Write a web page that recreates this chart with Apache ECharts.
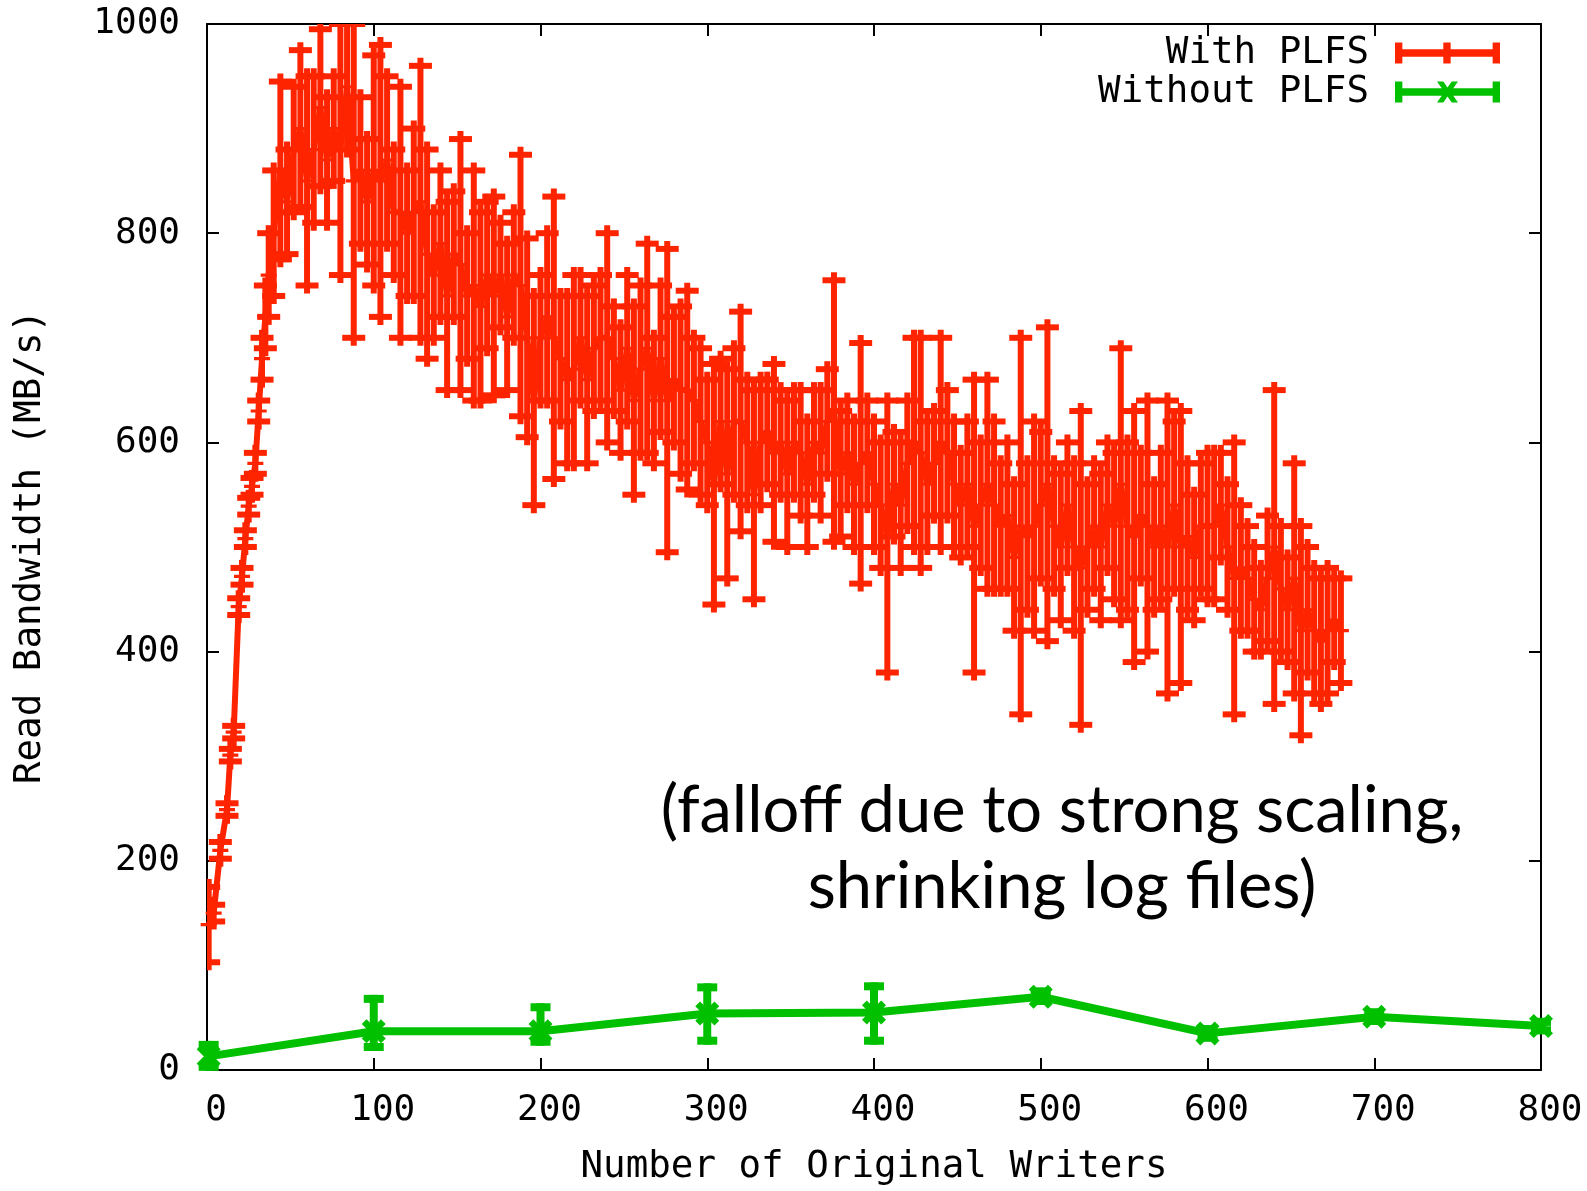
<!DOCTYPE html>
<html>
<head>
<meta charset="utf-8">
<script src="https://cdn.jsdelivr.net/npm/echarts@6/dist/echarts.min.js"></script>
<style>
html,body{margin:0;padding:0;background:#fff;}
#chart{width:1587px;height:1191px;}
</style>
</head>
<body>
<div id="chart"></div>
<script>
// ---- Data ----
// "With PLFS": x = number of original writers, mean bandwidth and symmetric error
const plfsX = [
  1,4,8,12,14,16,19,21,23,25,27,29,31,33,35,37,
  40,44,48,52,56,60,64,68,72,76,80,84,88,92,96,100,
  104,108,112,116,120,124,128,132,136,140,144,148,152,156,160,164,168,172,176,180,184,188,192,196,200,
  204,208,212,216,220,224,228,232,236,240,244,248,252,256,260,264,268,272,276,280,284,288,292,296,300,
  304,308,312,316,320,324,328,332,336,340,344,348,352,356,360,364,368,372,376,380,384,388,392,396,400,
  404,408,412,416,420,424,428,432,436,440,444,448,452,456,460,464,468,472,476,480,484,488,492,496,500,
  504,508,512,516,520,524,528,532,536,540,544,548,552,556,560,564,568,572,576,580,584,588,592,596,600,
  604,608,612,616,620,624,628,632,636,640,644,648,652,656,660,664,668,672,676,680
];
const plfsMean = [
  139,150,210,249,301,323,443,472,508,539,558,580,630,680,720,760,
  800,860,830,880,900,850,880,920,870,900,880,940,850,860,830,860,
  850,870,820,820,800,820,830,780,760,790,740,780,770,740,750,730,760,740,760,720,760,750,700,640,700,
  720,700,680,660,670,700,660,690,700,700,680,650,690,640,670,690,640,680,640,660,650,650,640,620,600,
  560,620,570,620,620,600,550,600,610,590,600,570,600,590,560,600,590,620,630,570,590,560,580,590,560,
  540,510,560,540,580,600,590,560,580,600,590,560,540,560,520,540,560,540,520,530,490,520,510,520,540,
  560,520,500,540,500,480,500,520,500,540,520,560,520,510,530,520,500,520,500,540,500,510,490,520,520,
  520,540,500,470,480,470,450,440,470,500,460,440,470,420,440,420,410,420,430,420
];
const plfsErr = [
  36,8,8,6,6,6,8,8,8,8,8,10,10,20,30,40,
  60,85,50,60,75,100,70,75,60,50,120,60,150,70,60,110,
  130,80,60,120,60,80,130,100,60,70,90,60,120,60,110,90,70,95,50,70,60,125,95,100,60,
  80,135,60,80,90,60,80,60,60,100,50,60,70,90,80,100,60,70,145,60,80,95,60,70,60,
  115,60,100,70,105,60,100,60,50,85,50,70,50,60,60,50,60,50,125,60,50,60,115,50,60,
  60,130,50,60,60,100,110,60,50,100,60,60,50,60,140,60,100,80,60,70,70,180,70,100,70,
  150,60,70,60,80,150,60,60,70,60,70,130,80,120,60,120,60,70,140,80,130,70,60,60,70,
  70,50,60,130,60,50,50,40,60,150,60,50,110,100,60,60,60,60,40,50
];
// "Without PLFS": mean with low / high error-bar ends
const noPlfsX    = [1, 100, 200, 300, 400, 500, 600, 700, 800];
const noPlfsMean = [13, 37, 37, 54, 55, 70, 35, 51, 42];
const noPlfsLow  = [3, 22, 27, 28, 28, 66, 31, 47, 38];
const noPlfsHigh = [24, 68, 60, 79, 80, 75, 39, 55, 46];

const xTickInterval = 100;
const yTickInterval = 200;
const annotationLines = ['(falloff due to strong scaling,', 'shrinking log files)'];

// ---- Styles ----
const RED = '#ff2400';
const GREEN = '#00c000';
const MONO = '"DejaVu Sans Mono", "Liberation Mono", monospace';
const FS_TICK = 36;
const FS_NAME = 37.5;

function errBarRenderer(color, lw, capHalf, stub) {
  return function (params, api) {
    const x = api.value(0), lowV = api.value(2), highV = api.value(3);
    const lo = api.coord([x, lowV]);
    const hi = api.coord([x, highV]);
    const style = { stroke: color, lineWidth: lw, fill: null };
    return {
      type: 'group',
      children: [
        { type: 'line', shape: { x1: lo[0], y1: lo[1] + stub, x2: hi[0], y2: hi[1] - stub }, style: style },
        { type: 'line', shape: { x1: lo[0] - capHalf, y1: lo[1], x2: lo[0] + capHalf, y2: lo[1] }, style: style },
        { type: 'line', shape: { x1: hi[0] - capHalf, y1: hi[1], x2: hi[0] + capHalf, y2: hi[1] }, style: style }
      ]
    };
  };
}

const plfsBars = plfsX.map((x, i) => [x, plfsMean[i], plfsMean[i] - plfsErr[i], plfsMean[i] + plfsErr[i]]);
const plfsLine = plfsX.map((x, i) => [x, plfsMean[i]]);
const noBars = noPlfsX.map((x, i) => [x, noPlfsMean[i], noPlfsLow[i], noPlfsHigh[i]]);
const noLine = noPlfsX.map((x, i) => [x, noPlfsMean[i]]);

const PLUS = 'path://M4,0H6V10H4Z M0,4H10V6H0Z';
const CROSS = 'path://M0,2L2,0L10,8L8,10Z M8,0L10,2L2,10L0,8Z';
const LEG_RED = 'path://M0,6.5H100V13.5H0Z M0,0H7V20H0Z M93,0H100V20H93Z M46,0H53V20H46Z';
const LEG_GREEN = 'path://M0,6.5H100V13.5H0Z M0,0H7V20H0Z M93,0H100V20H93Z M40,0L46,0L60,20L54,20Z M54,0L60,0L46,20L40,20Z';

const axisLineStyle = { color: '#000', width: 2 };
const tickCfg = { show: true, inside: true, length: 12, lineStyle: { color: '#000', width: 2 } };
const legendText = { fontFamily: MONO, fontSize: FS_NAME, color: '#000', lineHeight: 38, padding: [0, 21, 0, 0] };

const chart = echarts.init(document.getElementById('chart'), null, { renderer: 'canvas' });
chart.setOption({
  backgroundColor: '#ffffff',
  animation: false,
  grid: { left: 207, right: 46, top: 24, bottom: 114, containLabel: false },
  legend: [
    {
      data: [{ name: 'With PLFS', icon: LEG_RED }],
      right: 87, top: 34, align: 'right', padding: 0,
      itemWidth: 105, itemHeight: 21,
      textStyle: legendText, selectedMode: false
    },
    {
      data: [{ name: 'Without PLFS', icon: LEG_GREEN }],
      right: 87, top: 73, align: 'right', padding: 0,
      itemWidth: 105, itemHeight: 21,
      textStyle: legendText, selectedMode: false
    }
  ],
  xAxis: [
    {
      type: 'value', min: 0, max: 800, interval: xTickInterval, position: 'bottom',
      axisLine: { show: true, onZero: false, lineStyle: axisLineStyle },
      axisTick: tickCfg,
      splitLine: { show: false },
      axisLabel: { fontFamily: MONO, fontSize: FS_TICK, color: '#000', margin: 23, padding: [0, 0, 0, 18], formatter: v => String(v) },
      name: 'Number of Original Writers', nameLocation: 'middle', nameGap: 78,
      nameTextStyle: { fontFamily: MONO, fontSize: FS_NAME, color: '#000' }
    },
    {
      type: 'value', min: 0, max: 800, interval: xTickInterval, position: 'top',
      axisLine: { show: true, onZero: false, lineStyle: axisLineStyle },
      axisTick: tickCfg, axisLabel: { show: false }, splitLine: { show: false }
    }
  ],
  yAxis: [
    {
      type: 'value', min: 0, max: 1000, interval: yTickInterval, position: 'left',
      axisLine: { show: true, onZero: false, lineStyle: axisLineStyle },
      axisTick: tickCfg,
      splitLine: { show: false },
      axisLabel: { fontFamily: MONO, fontSize: FS_TICK, color: '#000', margin: 27, formatter: v => String(v) },
      name: 'Read Bandwidth (MB/s)', nameLocation: 'middle', nameGap: 158,
      nameTextStyle: { fontFamily: MONO, fontSize: FS_NAME, color: '#000' }
    },
    {
      type: 'value', min: 0, max: 1000, interval: yTickInterval, position: 'right',
      axisLine: { show: true, onZero: false, lineStyle: axisLineStyle },
      axisTick: tickCfg, axisLabel: { show: false }, splitLine: { show: false }
    }
  ],
  series: [
    {
      name: 'With PLFS', type: 'custom', xAxisIndex: 0, yAxisIndex: 0,
      renderItem: errBarRenderer(RED, 6, 11.5, 8), data: plfsBars, clip: true,
      encode: { x: 0, y: 1 }, itemStyle: { color: RED }, silent: true, z: 2
    },
    {
      name: 'With PLFS', type: 'line', xAxisIndex: 0, yAxisIndex: 0, data: plfsLine,
      lineStyle: { color: RED, width: 6 }, itemStyle: { color: RED },
      symbol: PLUS, symbolSize: 16, showSymbol: true, showAllSymbol: true, clip: true, z: 3
    },
    {
      name: 'Without PLFS', type: 'custom', xAxisIndex: 0, yAxisIndex: 0,
      renderItem: errBarRenderer(GREEN, 8, 10, 4), data: noBars, clip: false,
      encode: { x: 0, y: 1 }, itemStyle: { color: GREEN }, silent: true, z: 2
    },
    {
      name: 'Without PLFS', type: 'line', xAxisIndex: 0, yAxisIndex: 0, data: noLine,
      lineStyle: { color: GREEN, width: 8 }, itemStyle: { color: GREEN },
      symbol: CROSS, symbolSize: 24, showSymbol: true, clip: false, z: 3
    }
  ],
  graphic: annotationLines.map((t, i) => ({
    type: 'text', x: 1062, y: 811 + i * 76,
    style: { text: t, fill: '#000', font: '65px Lato, "Open Sans", sans-serif', textAlign: 'center', textVerticalAlign: 'middle' },
    z: 10
  }))
});
</script>
</body>
</html>
